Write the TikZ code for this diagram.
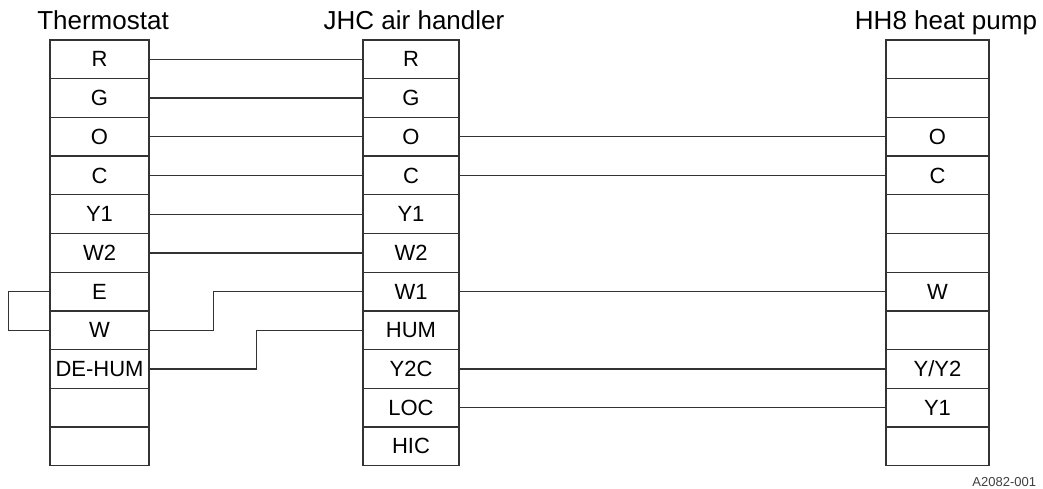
\documentclass[tikz,border=0pt]{standalone}
\usepackage{fontspec}
\setmainfont{Liberation Sans}

\begin{document}
\begin{tikzpicture}[x = 1pt, y = -1pt, line width = 1.3pt, draw = black!80,
        cell/.style = {draw, inner sep = 0pt, minimum height = 38.7pt, minimum width = #1,
            font = \fontsize{22}{26}\selectfont},
        title/.style = {anchor = base, font = \fontsize{26}{31}\selectfont}]
        \useasboundingbox (0,0) rectangle (1043,488);
        
        \node [title] (ttitle) at (103,29) {Thermostat};
        \node [title] (jtitle) at (414,29) {JHC air handler};
        \node [title] (htitle) at (946,29) {HH8 heat pump};
        
        \node [cell = 99pt] (tR) at (99.5,59.35) {R};
        \node [cell = 99pt] (tG) at (99.5,98.05) {G};
        \node [cell = 99pt] (tO) at (99.5,136.75) {O};
        \node [cell = 99pt] (tC) at (99.5,175.45) {C};
        \node [cell = 99pt] (tY1) at (99.5,214.15) {Y1};
        \node [cell = 99pt] (tW2) at (99.5,252.85) {W2};
        \node [cell = 99pt] (tE) at (99.5,291.55) {E};
        \node [cell = 99pt] (tW) at (99.5,330.25) {W};
        \node [cell = 99pt] (tDH) at (99.5,368.95) {DE-HUM};
        \node [cell = 99pt] (tX1) at (99.5,407.65) {};
        \node [cell = 99pt] (tX2) at (99.5,446.35) {};
        
        \node [cell = 96pt] (jR) at (411,59.35) {R};
        \node [cell = 96pt] (jG) at (411,98.05) {G};
        \node [cell = 96pt] (jO) at (411,136.75) {O};
        \node [cell = 96pt] (jC) at (411,175.45) {C};
        \node [cell = 96pt] (jY1) at (411,214.15) {Y1};
        \node [cell = 96pt] (jW2) at (411,252.85) {W2};
        \node [cell = 96pt] (jW1) at (411,291.55) {W1};
        \node [cell = 96pt] (jHUM) at (411,330.25) {HUM};
        \node [cell = 96pt] (jY2C) at (411,368.95) {Y2C};
        \node [cell = 96pt] (jLOC) at (411,407.65) {LOC};
        \node [cell = 96pt] (jHIC) at (411,446.35) {HIC};
        
        \node [cell = 103pt] (hX1) at (937.5,59.35) {};
        \node [cell = 103pt] (hX2) at (937.5,98.05) {};
        \node [cell = 103pt] (hO) at (937.5,136.75) {O};
        \node [cell = 103pt] (hC) at (937.5,175.45) {C};
        \node [cell = 103pt] (hX3) at (937.5,214.15) {};
        \node [cell = 103pt] (hX4) at (937.5,252.85) {};
        \node [cell = 103pt] (hW) at (937.5,291.55) {W};
        \node [cell = 103pt] (hX5) at (937.5,330.25) {};
        \node [cell = 103pt] (hY2) at (937.5,368.95) {Y/Y2};
        \node [cell = 103pt] (hY1) at (937.5,407.65) {Y1};
        \node [cell = 103pt] (hX6) at (937.5,446.35) {};
        
        \draw (tR) -- (jR);
        \draw (tG) -- (jG);
        \draw (tO) -- (jO);
        \draw (tC) -- (jC);
        \draw (tY1) -- (jY1);
        \draw (tW2) -- (jW2);
        \draw (tW.east) -- ++(64,0) |- (jW1.west);
        \draw (tDH.east) -- ++(107,0) |- (jHUM.west);
        \draw (tE.west) -- ++(-41,0) |- (tW.west);
        
        \draw (jO) -- (hO);
        \draw (jC) -- (hC);
        \draw (jW1) -- (hW);
        \draw (jY2C) -- (hY2);
        \draw (jLOC) -- (hY1);
        
        \node [font = \fontsize{13}{15}\selectfont, anchor = base east, text = black!75] (code) at (1040,486) {A2082-001};
    \end{tikzpicture}
\end{document}
